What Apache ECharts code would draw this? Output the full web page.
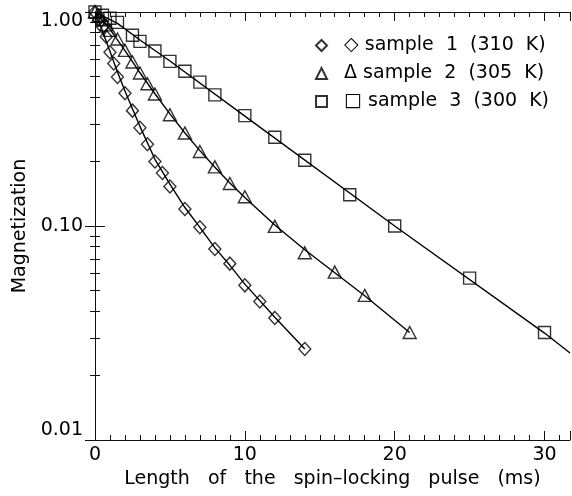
<!DOCTYPE html>
<html lang="en">
<head>
<meta charset="utf-8">
<title>Magnetization vs spin-locking pulse</title>
<script src="https://cdn.jsdelivr.net/npm/echarts@6/dist/echarts.min.js"></script>
<style>
  body { margin: 0; background: #fff; }
  #main { width: 572px; height: 496px; }
</style>
</head>
<body>
<div id="main"></div>
<script>
// measured points (pulse length in ms, magnetization)
var t1 = [0, 0.25, 0.5, 0.75, 1, 1.25, 1.5, 2, 2.5, 3, 3.5, 4, 4.5, 5, 6, 7, 8, 9, 10, 11, 12, 14];
var m1 = [1.0, 0.92, 0.85, 0.767, 0.649, 0.575, 0.497, 0.417, 0.346, 0.288, 0.241, 0.200, 0.177, 0.153, 0.120, 0.0986, 0.0781, 0.0667, 0.0528, 0.0444, 0.0372, 0.0266];

var t2 = [0, 0.25, 0.5, 0.75, 1, 1.5, 2, 2.5, 3, 3.5, 4, 5, 6, 7, 8, 9, 10, 12, 14, 16, 18, 21];
var m2 = [1.0, 0.96, 0.92, 0.87, 0.82, 0.748, 0.662, 0.584, 0.519, 0.462, 0.414, 0.331, 0.272, 0.223, 0.189, 0.158, 0.137, 0.0996, 0.0750, 0.0609, 0.0474, 0.0318];

var t3 = [0, 0.5, 1, 1.5, 2.5, 3, 4, 5, 6, 7, 8, 10, 12, 14, 17, 20, 25, 30];
var m3 = [1.0, 0.965, 0.935, 0.894, 0.779, 0.729, 0.657, 0.588, 0.529, 0.470, 0.410, 0.328, 0.260, 0.203, 0.140, 0.100, 0.0571, 0.0318];

// fitted curves
var f1t = [0, 0.5, 1, 1.5, 2, 3, 4, 5, 6, 7, 8, 9, 10, 12, 14];
var f1m = [1.0, 0.813, 0.653, 0.525, 0.427, 0.292, 0.205, 0.157, 0.122, 0.0985, 0.079, 0.0655, 0.0535, 0.0375, 0.0266];
var f2t = [0, 1, 2, 3, 4, 5, 6, 7, 8, 9, 10, 12, 14, 16, 18, 21];
var f2m = [1.0, 0.83, 0.66, 0.52, 0.415, 0.334, 0.272, 0.225, 0.188, 0.159, 0.136, 0.101, 0.0775, 0.0605, 0.0472, 0.0318];
var f3t = [0, 1.5, 3, 5, 10, 20, 30, 31.7];
var f3m = [1.0, 0.885, 0.74, 0.59, 0.326, 0.100, 0.0316, 0.0255];

var names = ['sample  1  (310  K)', 'sample  2  (305  K)', 'sample  3  (300  K)'];
var glyphs = ['\u25C7', '\u0394', '\u25A1'];

var xMax = 31.7;
var font = 'DejaVu Sans';
var fs = 19;

function pairs(t, m) {
    var out = [];
    for (var i = 0; i < t.length; i++) out.push([t[i], m[i]]);
    return out;
}

var chart = echarts.init(document.getElementById('main'));

var xBase = {
    type: 'value', min: 0, max: xMax, interval: 10,
    axisLine: { show: true, lineStyle: { color: '#111', width: 1 } },
    axisTick: { show: true, inside: true, length: 9, lineStyle: { color: '#111' } },
    minorTick: { show: true, splitNumber: 10, length: 5, lineStyle: { color: '#111' } },
    splitLine: { show: false }
};
var yBase = {
    type: 'log', logBase: 10, min: 0.01, max: 1,
    axisLine: { show: true, lineStyle: { color: '#111', width: 1 } },
    axisTick: { show: true, inside: true, length: 10, lineStyle: { color: '#111' } },
    minorTick: { show: true, splitNumber: 9, length: 5, lineStyle: { color: '#111' } },
    splitLine: { show: false }
};

var symStyle = { color: 'transparent', borderColor: '#000', borderWidth: 1.4 };

var option = {
    backgroundColor: '#fff',
    animation: false,
    grid: { left: 95, right: 2, top: 12, bottom: 56 },
    legend: {
        orient: 'vertical',
        left: 310, top: 31,
        itemWidth: 11, itemHeight: 11, itemGap: 9,
        data: names,
        formatter: function (n) { return '  ' + glyphs[names.indexOf(n)] + ' ' + n; },
        textStyle: { fontFamily: font, fontSize: fs, color: '#000' }
    },
    xAxis: [
        echarts.util.merge({
            position: 'bottom',
            name: 'Length   of   the   spin\u2013locking   pulse   (ms)',
            nameLocation: 'middle', nameGap: 27,
            nameTextStyle: { fontFamily: font, fontSize: fs, color: '#000' },
            axisLabel: { fontFamily: font, fontSize: fs, color: '#000', margin: 6 }
        }, xBase, true),
        echarts.util.merge({ position: 'top', axisLabel: { show: false } }, xBase, true)
    ],
    yAxis: [
        echarts.util.merge({
            position: 'left',
            name: 'Magnetization',
            nameLocation: 'middle', nameGap: 62,
            nameTextStyle: { fontFamily: font, fontSize: fs, color: '#000' },
            axisLabel: {
                fontFamily: font, fontSize: fs, color: '#000', margin: 12,
                verticalAlignMaxLabel: 'top', verticalAlignMinLabel: 'bottom',
                formatter: function (v) { return v.toFixed(2); }
            }
        }, yBase, true),
        echarts.util.merge({ position: 'right', axisLabel: { show: false } }, yBase, true)
    ],
    series: [
        { type: 'line', data: pairs(f1t, f1m), showSymbol: false, silent: true,
          lineStyle: { color: '#000', width: 1.4 } },
        { type: 'line', data: pairs(f2t, f2m), showSymbol: false, silent: true,
          lineStyle: { color: '#000', width: 1.4 } },
        { type: 'line', data: pairs(f3t, f3m), showSymbol: false, silent: true,
          lineStyle: { color: '#000', width: 1.4 } },
        { name: names[0], type: 'scatter', data: pairs(t1, m1), symbol: 'diamond',
          symbolSize: [12, 13], itemStyle: symStyle },
        { name: names[1], type: 'scatter', data: pairs(t2, m2), symbol: 'triangle',
          symbolSize: [13, 12], itemStyle: symStyle },
        { name: names[2], type: 'scatter', data: pairs(t3, m3), symbol: 'rect',
          symbolSize: 12, itemStyle: symStyle }
    ]
};

chart.setOption(option);
</script>
</body>
</html>
